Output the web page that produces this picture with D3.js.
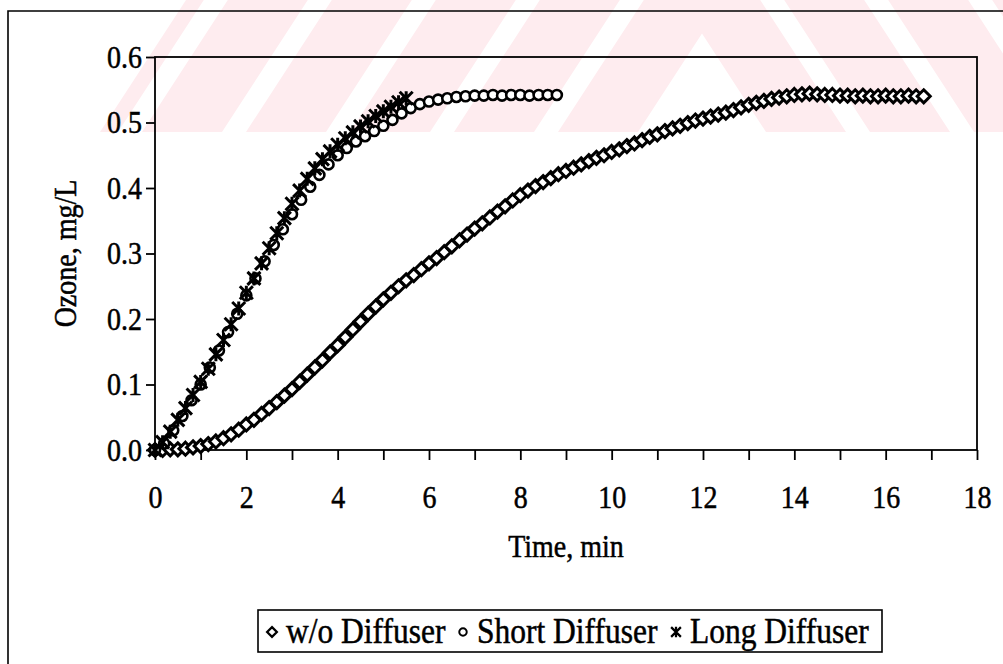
<!DOCTYPE html>
<html>
<head>
<meta charset="utf-8">
<script src="https://cdnjs.cloudflare.com/ajax/libs/d3/7.8.5/d3.min.js"></script>
<style>
  html, body { margin: 0; padding: 0; background: #fff; }
  svg { display: block; }
  text { font-family: "Liberation Serif", "Times New Roman", serif; fill: #000;
         stroke: #000; stroke-width: 0.45px; }
</style>
</head>
<body>
<svg id="chart" width="1003" height="664"></svg>
<script>
// Ozone concentration vs. time for three aeration set-ups.
// Sample times are in seconds, concentrations in mg/L.

const woTimeSec = [
  0, 10, 20, 30, 40, 50, 60, 70, 80, 90, 100, 110, 120, 130, 140, 150, 160, 170,
  180, 190, 200, 210, 220, 230, 240, 250, 260, 270, 280, 290, 300, 310, 320, 330,
  340, 350, 360, 370, 380, 390, 400, 410, 420, 430, 440, 450, 460, 470, 480, 490,
  500, 510, 520, 530, 540, 550, 560, 570, 580, 590, 600, 610, 620, 630, 640, 650,
  660, 670, 680, 690, 700, 710, 720, 730, 740, 750, 760, 770, 780, 790, 800, 810,
  820, 830, 840, 850, 860, 870, 880, 890, 900, 910, 920, 930, 940, 950, 960, 970,
  980, 990, 1000, 1010
];
const woOzone = [
  0.000, 0.000, 0.001, 0.001, 0.002, 0.004, 0.006, 0.009, 0.013, 0.018, 0.024, 0.031,
  0.039, 0.046, 0.055, 0.064, 0.073, 0.083, 0.093, 0.104, 0.115, 0.126, 0.137, 0.149,
  0.160, 0.172, 0.184, 0.196, 0.208, 0.219, 0.230, 0.240, 0.250, 0.259, 0.267, 0.276,
  0.285, 0.293, 0.302, 0.311, 0.320, 0.329, 0.338, 0.346, 0.355, 0.364, 0.372, 0.381,
  0.389, 0.396, 0.403, 0.409, 0.415, 0.421, 0.426, 0.431, 0.436, 0.441, 0.446, 0.450,
  0.455, 0.459, 0.464, 0.468, 0.473, 0.478, 0.482, 0.487, 0.491, 0.495, 0.499, 0.503,
  0.506, 0.509, 0.512, 0.515, 0.519, 0.523, 0.527, 0.530, 0.533, 0.536, 0.538, 0.540,
  0.542, 0.543, 0.544, 0.543, 0.542, 0.542, 0.541, 0.541, 0.540, 0.541, 0.540, 0.540,
  0.541, 0.540, 0.540, 0.541, 0.540, 0.540
];

const shortTimeSec = [
  0, 12, 24, 36, 48, 60, 72, 84, 96, 108, 120, 132, 144, 156, 168, 180, 192, 204,
  216, 228, 240, 252, 264, 276, 288, 300, 312, 324, 336, 348, 360, 372, 384, 396,
  408, 420, 432, 444, 456, 468, 480, 492, 504, 516, 528
];
const shortOzone = [
  0.000, 0.010, 0.030, 0.052, 0.076, 0.100, 0.126, 0.152, 0.180, 0.208, 0.236, 0.262,
  0.288, 0.313, 0.337, 0.360, 0.382, 0.402, 0.420, 0.436, 0.450, 0.461, 0.471, 0.479,
  0.487, 0.495, 0.504, 0.514, 0.522, 0.528, 0.532, 0.535, 0.537, 0.539, 0.540, 0.541,
  0.541, 0.542, 0.541, 0.542, 0.542, 0.541, 0.542, 0.542, 0.542
];

const longTimeSec = [
  0, 10, 20, 30, 40, 50, 60, 70, 80, 90, 100, 110, 120, 130, 140, 150, 160, 170,
  180, 190, 200, 210, 220, 230, 240, 250, 260, 270, 280, 290, 300, 310, 320, 330
];
const longOzone = [
  0.000, 0.012, 0.028, 0.046, 0.064, 0.084, 0.104, 0.124, 0.146, 0.168, 0.192, 0.216,
  0.240, 0.262, 0.285, 0.308, 0.331, 0.354, 0.376, 0.396, 0.414, 0.430, 0.444, 0.456,
  0.466, 0.476, 0.485, 0.494, 0.502, 0.510, 0.517, 0.524, 0.531, 0.537
];

const seriesNames = ["w/o Diffuser", "Short Diffuser", "Long Diffuser"];
const xTickValues = [0, 2, 4, 6, 8, 10, 12, 14, 16, 18];
const yTickValues = [0, 0.1, 0.2, 0.3, 0.4, 0.5, 0.6];
const xTitle = "Time, min";
const yTitle = "Ozone, mg/L";

const svg = d3.select("#chart");
const W = 1003, H = 664;
const plot = { left: 155, right: 977, top: 57, bottom: 450 };
const stretch = 1.12;   // glyphs are drawn slightly taller than wide

// faint pink background stripes in the upper band of the page
const defs = svg.append("defs");
defs.append("clipPath").attr("id", "bandClip").append("path")
  .attr("d", "M100,132 L186,0 L1003,0 L1003,132 Z");
const band = svg.append("g").attr("fill", "#feecef").attr("clip-path", "url(#bandClip)");
const wmBase = 132, wmCx = 702, wmSlope = 0.65;
for (let k = 0; k < 7; k++) {
  const wi = 64 + k * 104, wo = wi + 80;
  band.append("path").attr("d",
    `M${wmCx - wo},${wmBase} L${wmCx},${wmBase - wo / wmSlope} L${wmCx + wo},${wmBase}` +
    ` L${wmCx + wi},${wmBase} L${wmCx},${wmBase - wi / wmSlope} L${wmCx - wi},${wmBase} Z`);
}

// outer frame (open at the right and bottom)
svg.append("path")
  .attr("d", `M8,${H} L8,11 L${W},11`)
  .attr("fill", "none").attr("stroke", "#000").attr("stroke-width", 1.6);

const x = d3.scaleLinear().domain([0, 18]).range([plot.left, plot.right]);
const y = d3.scaleLinear().domain([0, 0.6]).range([plot.bottom, plot.top]);

// plot area border
svg.append("rect")
  .attr("x", plot.left).attr("y", plot.top)
  .attr("width", plot.right - plot.left).attr("height", plot.bottom - plot.top)
  .attr("fill", "none").attr("stroke", "#000").attr("stroke-width", 1.8);

// x axis: a tick every minute, labels every two
const xAxis = d3.axisBottom(x)
  .tickValues(d3.range(0, 19, 1))
  .tickSize(10).tickSizeOuter(0)
  .tickFormat(d => xTickValues.includes(d) ? d3.format("d")(d) : "");
const gx = svg.append("g").attr("transform", `translate(0,${plot.bottom})`).call(xAxis);
gx.select(".domain").remove();
gx.selectAll(".tick line").attr("stroke", "#000").attr("stroke-width", 1.8);
gx.selectAll(".tick text").attr("font-size", 28).attr("dy", 0).attr("y", 58 / stretch)
  .attr("transform", `scale(1,${stretch})`).attr("font-family", null);

// y axis
const yAxis = d3.axisLeft(y)
  .tickValues(yTickValues)
  .tickSize(9).tickSizeOuter(0)
  .tickFormat(d3.format(".1f"));
const gy = svg.append("g").attr("transform", `translate(${plot.left},0)`).call(yAxis);
gy.select(".domain").remove();
gy.selectAll(".tick line").attr("stroke", "#000").attr("stroke-width", 1.8);
gy.selectAll(".tick text").attr("font-size", 28).attr("x", -13).attr("dy", "0.33em")
  .attr("transform", `scale(1,${stretch})`).attr("font-family", null);

// axis titles
function label(px, py, str, rotate) {
  const g = svg.append("g")
    .attr("transform", `translate(${px},${py})${rotate ? " rotate(-90)" : ""} scale(1,${stretch})`);
  g.append("text").attr("text-anchor", "middle").attr("font-size", 28).text(str);
}
label((plot.left + plot.right) / 2, 557, xTitle, false);
label(76, (plot.top + plot.bottom) / 2, yTitle, true);

// marker shapes
const markers = {
  diamond: g => g.append("path").attr("d", "M0,-6.5 L6.5,0 L0,6.5 L-6.5,0 Z")
    .attr("fill", "#fff").attr("stroke", "#000").attr("stroke-width", 3),
  circle: g => g.append("circle").attr("r", 5)
    .attr("fill", "#fff").attr("stroke", "#000").attr("stroke-width", 2.6),
  cross: g => g.append("path").attr("d", "M-6.5,-6.5 L6.5,6.5 M-6.5,6.5 L6.5,-6.5 M0,-7 L0,7")
    .attr("fill", "none").attr("stroke", "#000").attr("stroke-width", 3)
};

const series = [
  { name: seriesNames[0], t: woTimeSec, v: woOzone, shape: "diamond" },
  { name: seriesNames[1], t: shortTimeSec, v: shortOzone, shape: "circle" },
  { name: seriesNames[2], t: longTimeSec, v: longOzone, shape: "cross" }
];

const pts = svg.append("g");
series.forEach(s => {
  const data = s.t.map((sec, i) => ({ t: sec / 60, v: s.v[i] }));
  pts.append("g").selectAll("g").data(data).join("g")
    .attr("transform", d => `translate(${x(d.t)},${y(d.v)})`)
    .each(function () { markers[s.shape](d3.select(this)); });
});

// legend
const leg = svg.append("g");
leg.append("rect").attr("x", 258).attr("y", 610).attr("width", 624).attr("height", 42)
  .attr("fill", "#fff").attr("stroke", "#000").attr("stroke-width", 1.6);
const legX = [272, 463, 676];
series.forEach((s, i) => {
  const g = leg.append("g").attr("transform", `translate(${legX[i]},632)`);
  const m = g.append("g").attr("transform", "scale(0.75)");
  markers[s.shape](m);
  g.append("g").attr("transform", `translate(14,11) scale(1,${stretch})`)
    .append("text").attr("font-size", 31.5).text(s.name);
});
</script>
</body>
</html>
